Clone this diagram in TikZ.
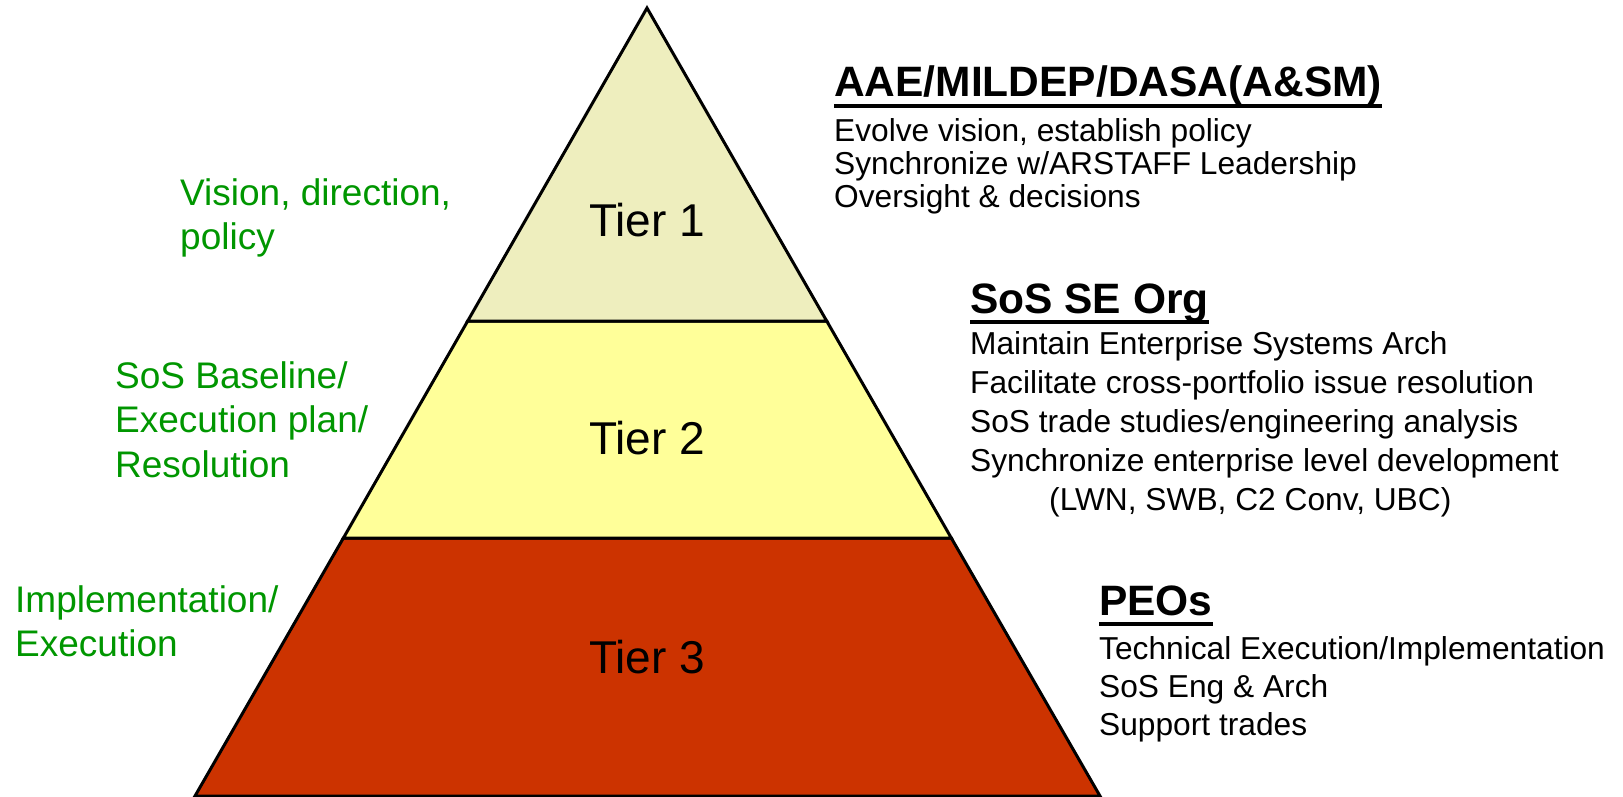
\documentclass[tikz,border=0pt]{standalone}
\usepackage{fontspec}
\setmainfont{Liberation Sans}
\usetikzlibrary{calc}

\definecolor{tierone}{RGB}{238,238,190}
\definecolor{tiertwo}{RGB}{255,255,153}
\definecolor{tierthree}{RGB}{204,51,0}
\definecolor{notegreen}{RGB}{0,150,0}

% left-aligned block of lines, aligned on the baseline of its first line
\newcommand\textlines[1]{\begin{tabular}[t]{@{}l@{}}#1\end{tabular}}

\tikzset{
  edge/.style={line width=3pt, line join=miter},
  tierlabel/.style={inner sep=0pt, font=\fontsize{46}{54}\selectfont},
  headtext/.style={anchor=base west, inner sep=0pt, font=\fontsize{42.5}{50}\selectfont\bfseries},
  bodytext/.style={anchor=base west, inner sep=0pt},
  notetext/.style={anchor=base west, inner sep=0pt, text=notegreen,
    font=\fontsize{37}{44.5}\selectfont},
  headrule/.style={line width=4pt},
}

\begin{document}
\begin{tikzpicture}[x=1pt,y=-1pt]
\useasboundingbox (0,0) rectangle (1623,797);

% pyramid corners
\coordinate (apex) at (647,8);
\coordinate (l1) at (467.7,321);
\coordinate (r1) at (826.7,321);
\coordinate (l2) at (343.4,538);
\coordinate (r2) at (951.3,538);
\coordinate (l3) at (195,796);
\coordinate (r3) at (1100,796);

% tiers
\filldraw[edge, fill=tierthree] (l2) -- (r2) -- (r3) -- (l3) -- cycle;
\filldraw[edge, fill=tiertwo] (l1) -- (r1) -- (r2) -- (l2) -- cycle;
\filldraw[edge, fill=tierone] (apex) -- (r1) -- (l1) -- cycle;

\node[tierlabel] (t1) at (647,220) {Tier 1};
\node[tierlabel] (t2) at (647,438) {Tier 2};
\node[tierlabel] (t3) at (647,657) {Tier 3};

% right-hand descriptions
\node[headtext] (h1) at (834,97) {AAE/MILDEP/DASA(A\&SM)};
\draw[headrule] ([yshift=-9pt]h1.base west) -- ([yshift=-9pt]h1.base east);
\node[bodytext, font=\fontsize{31.7}{33}\selectfont] (b1) at (834,142) {\textlines{%
  Evolve vision, establish policy\\
  Synchronize w/ARSTAFF Leadership\\
  Oversight \& decisions}};

\node[headtext] (h2) at (970,313) {SoS SE Org};
\draw[headrule] ([yshift=-9pt]h2.base west) -- ([yshift=-9pt]h2.base east);
\node[bodytext, font=\fontsize{31.7}{39}\selectfont] (b2) at (970,354) {\textlines{%
  Maintain Enterprise Systems Arch\\
  Facilitate cross-portfolio issue resolution\\
  SoS trade studies/engineering analysis\\
  Synchronize enterprise level development\\
  \hspace*{79pt}(LWN, SWB, C2 Conv, UBC)}};

\node[headtext] (h3) at (1099,615) {PEOs};
\draw[headrule] ([yshift=-9pt]h3.base west) -- ([yshift=-9pt]h3.base east);
\node[bodytext, font=\fontsize{31.7}{38}\selectfont] (b3) at (1099,659) {\textlines{%
  Technical Execution/Implementation\\
  SoS Eng \& Arch\\
  Support trades}};

% left-hand notes
\node[notetext] (n1) at (180,205) {\textlines{Vision, direction,\\policy}};
\node[notetext] (n2) at (115,388) {\textlines{SoS Baseline/\\Execution plan/\\Resolution}};
\node[notetext] (n3) at (15,612) {\textlines{Implementation/\\Execution}};
\end{tikzpicture}
\end{document}
